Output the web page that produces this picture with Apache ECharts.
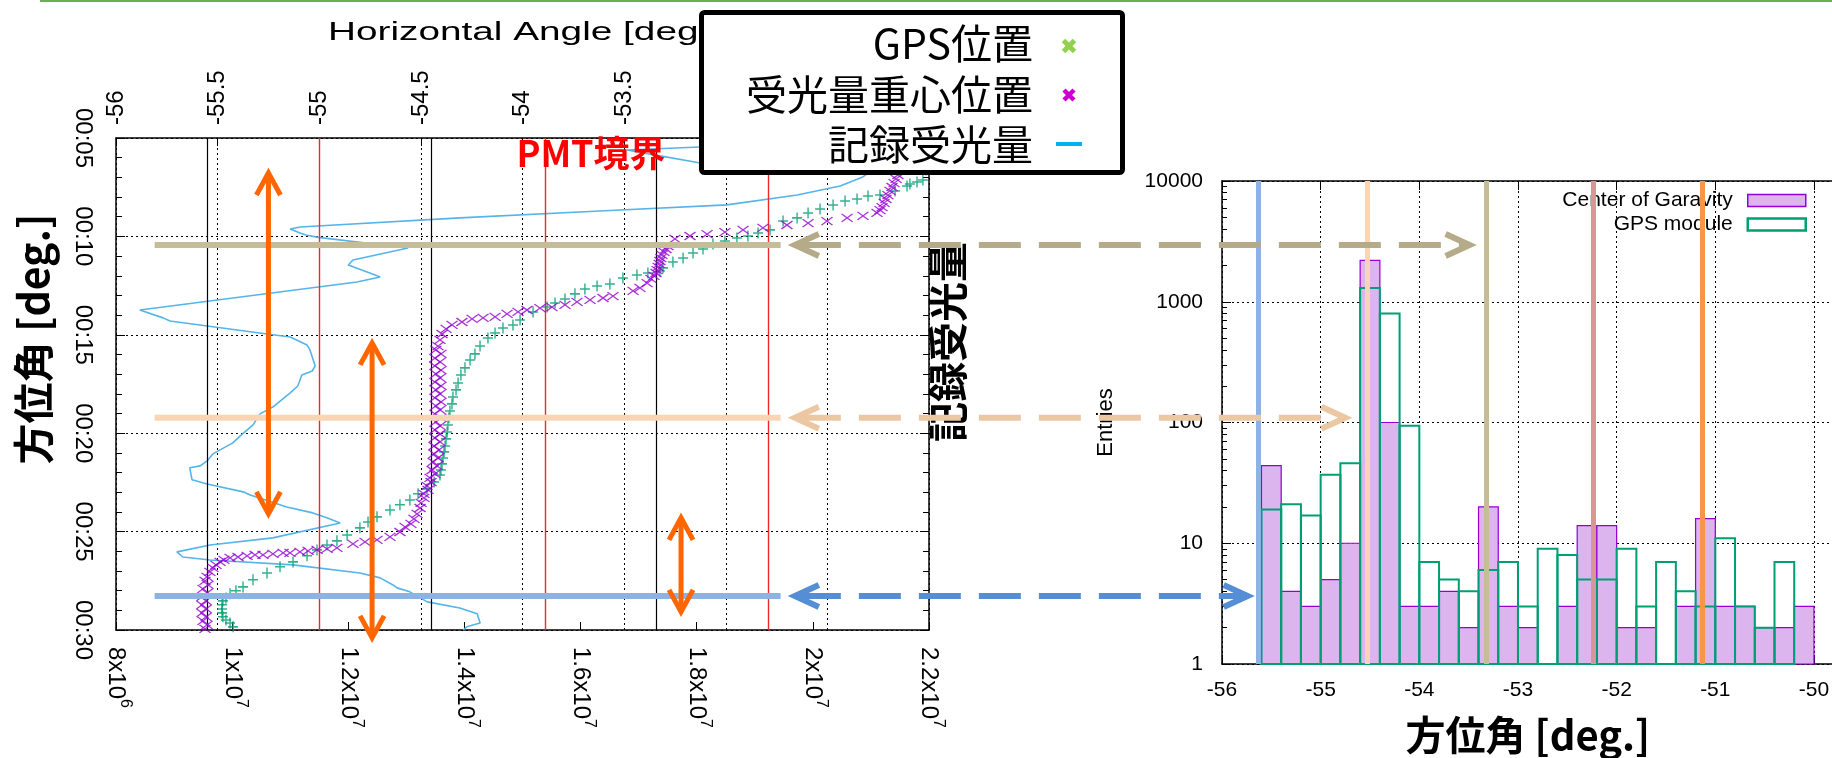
<!DOCTYPE html>
<html>
<head>
<meta charset="utf-8">
<title>方位角と記録受光量</title>
<script src="https://cdn.jsdelivr.net/npm/echarts@6.0.0/dist/echarts.min.js"></script>
<style>
  html, body { margin: 0; padding: 0; background: #ffffff; }
  #chart { width: 1832px; height: 758px; }
</style>
</head>
<body>
<div id="chart"></div>
<script>
// ---------------------------------------------------------------
// Left panel: tracked azimuth and recorded light versus time.
// Time is in minutes after 00:00, angles in degrees,
// recorded light in units of 10^6.
// ---------------------------------------------------------------
const timeTicks = [5, 10, 15, 20, 25, 30];

// GPS position [azimuth, minute]
const gpsPosition = [
  [-52.015, 6.63], [-52.030, 7.13], [-52.059, 7.24], [-52.094, 7.34], [-52.108, 7.44],
  [-52.167, 7.69], [-52.241, 7.90], [-52.300, 7.95], [-52.354, 8.10], [-52.413, 8.20],
  [-52.472, 8.40], [-52.536, 8.61], [-52.595, 8.81], [-52.649, 9.06], [-52.718, 9.22],
  [-52.782, 9.67], [-52.841, 9.83], [-52.891, 9.98], [-52.945, 10.08], [-53.004, 10.23],
  [-53.063, 10.38], [-53.112, 10.64], [-53.161, 10.84], [-53.210, 11.10], [-53.260, 11.30],
  [-53.309, 11.60], [-53.324, 11.76], [-53.383, 11.86], [-53.437, 11.96], [-53.506, 12.11],
  [-53.570, 12.42], [-53.633, 12.52], [-53.693, 12.67], [-53.742, 12.92], [-53.791, 13.18],
  [-53.840, 13.38], [-53.879, 13.59], [-53.948, 13.84], [-54.012, 14.25], [-54.047, 14.50],
  [-54.096, 14.65], [-54.135, 14.91], [-54.170, 15.16], [-54.209, 15.57], [-54.234, 15.97],
  [-54.258, 16.28], [-54.283, 16.68], [-54.303, 17.04], [-54.317, 17.45], [-54.327, 17.80],
  [-54.342, 18.16], [-54.347, 18.51], [-54.357, 18.87], [-54.362, 19.22], [-54.367, 19.58],
  [-54.371, 19.94], [-54.376, 20.29], [-54.381, 20.65], [-54.386, 20.95], [-54.391, 21.26],
  [-54.396, 21.56], [-54.401, 21.87], [-54.406, 22.12], [-54.435, 22.48], [-54.470, 22.83],
  [-54.514, 23.08], [-54.554, 23.39], [-54.603, 23.64], [-54.652, 23.90], [-54.716, 24.25],
  [-54.760, 24.51], [-54.800, 24.81], [-54.863, 25.17], [-54.913, 25.47], [-54.962, 25.68],
  [-55.011, 25.93], [-55.060, 26.23], [-55.129, 26.54], [-55.193, 26.79], [-55.257, 27.10],
  [-55.326, 27.45], [-55.375, 27.81], [-55.410, 28.01], [-55.439, 28.16], [-55.459, 28.37],
  [-55.474, 28.52], [-55.478, 28.72], [-55.478, 28.93], [-55.478, 29.13], [-55.474, 29.33],
  [-55.459, 29.49], [-55.439, 29.64], [-55.424, 29.84]
];

// Light-weighted centre position [azimuth, minute]
const cogPosition = [
  [-52.133, 5.10], [-52.138, 5.36], [-52.143, 5.61], [-52.143, 5.86], [-52.148, 6.12],
  [-52.148, 6.37], [-52.153, 6.63], [-52.153, 6.88], [-52.162, 7.08], [-52.172, 7.29],
  [-52.182, 7.49], [-52.192, 7.69], [-52.202, 7.90], [-52.212, 8.10], [-52.221, 8.30],
  [-52.231, 8.51], [-52.241, 8.66], [-52.256, 8.81],
  [-52.325, 8.96], [-52.403, 9.06], [-52.502, 9.22], [-52.595, 9.32], [-52.699, 9.42],
  [-52.817, 9.57], [-52.915, 9.67], [-53.004, 9.78], [-53.092, 9.88], [-53.176, 9.98],
  [-53.250, 10.13],
  [-53.284, 10.49], [-53.294, 10.64], [-53.304, 10.79], [-53.314, 10.94], [-53.319, 11.10],
  [-53.324, 11.25], [-53.328, 11.40], [-53.333, 11.55], [-53.338, 11.71], [-53.343, 11.86],
  [-53.353, 12.01], [-53.368, 12.16], [-53.387, 12.37], [-53.422, 12.62], [-53.456, 12.77],
  [-53.555, 13.03], [-53.604, 13.13], [-53.668, 13.23], [-53.732, 13.33], [-53.791, 13.48],
  [-53.855, 13.59], [-53.914, 13.64], [-53.978, 13.74], [-54.022, 13.84], [-54.076, 13.94],
  [-54.135, 14.09], [-54.194, 14.14], [-54.248, 14.19], [-54.298, 14.35], [-54.347, 14.50],
  [-54.376, 14.70], [-54.396, 14.96], [-54.406, 15.26], [-54.416, 15.57],
  [-54.426, 15.77], [-54.401, 15.97], [-54.431, 16.18], [-54.406, 16.38], [-54.431, 16.58],
  [-54.401, 16.79], [-54.426, 16.99], [-54.406, 17.19], [-54.431, 17.40], [-54.401, 17.60],
  [-54.426, 17.80], [-54.406, 18.00], [-54.431, 18.21], [-54.401, 18.41], [-54.426, 18.61],
  [-54.406, 18.82], [-54.431, 19.02], [-54.401, 19.22], [-54.426, 19.43], [-54.406, 19.63],
  [-54.431, 19.83], [-54.406, 20.04], [-54.431, 20.24], [-54.406, 20.44], [-54.435, 20.65],
  [-54.411, 20.85], [-54.435, 21.05], [-54.416, 21.26], [-54.440, 21.46], [-54.421, 21.66],
  [-54.445, 21.87], [-54.431, 22.07], [-54.455, 22.27], [-54.450, 22.48], [-54.470, 22.68],
  [-54.465, 22.88], [-54.485, 23.08], [-54.485, 23.29], [-54.499, 23.54], [-54.504, 23.80],
  [-54.519, 24.10], [-54.534, 24.35], [-54.549, 24.61], [-54.578, 24.76],
  [-54.603, 25.02], [-54.652, 25.27], [-54.716, 25.42], [-54.775, 25.52], [-54.834, 25.62],
  [-54.913, 25.83], [-54.962, 25.88], [-55.011, 25.93], [-55.055, 25.98], [-55.095, 26.03],
  [-55.144, 26.08], [-55.178, 26.08], [-55.228, 26.13], [-55.277, 26.18], [-55.316, 26.18],
  [-55.355, 26.23], [-55.400, 26.29], [-55.439, 26.34], [-55.469, 26.44], [-55.488, 26.54],
  [-55.508, 26.69], [-55.523, 26.84], [-55.538, 27.05], [-55.552, 27.30],
  [-55.562, 27.50], [-55.547, 27.71], [-55.572, 27.91], [-55.552, 28.11], [-55.577, 28.32],
  [-55.557, 28.52], [-55.577, 28.72], [-55.557, 28.93], [-55.577, 29.13], [-55.557, 29.33],
  [-55.572, 29.54], [-55.552, 29.74], [-55.562, 29.94]
];

// Recorded light [x10^6, minute]
const recordedLight = [
  [21.59, 5.00], [20.81, 5.20], [18.06, 5.46], [16.80, 5.61], [17.37, 5.91], [18.06, 6.27],
  [19.09, 6.52], [20.47, 6.68], [20.98, 6.73], [20.86, 6.98], [20.47, 7.44], [19.73, 7.90],
  [18.52, 8.40], [16.33, 8.71], [13.92, 9.06], [11.17, 9.52], [11.00, 9.62], [11.17, 9.83],
  [11.27, 9.93], [11.24, 10.03], [11.48, 10.05], [13.03, 10.59], [12.08, 11.20], [12.00, 11.45],
  [12.37, 11.86], [12.55, 12.06], [12.15, 12.32], [8.41, 13.74], [8.81, 14.14], [8.93, 14.30],
  [10.60, 14.96], [11.00, 15.11], [11.29, 15.52], [11.34, 15.77], [11.43, 16.58], [11.38, 16.84],
  [11.20, 17.04], [11.13, 17.60], [11.00, 17.95], [10.70, 18.67], [10.48, 19.02], [10.36, 19.58],
  [10.14, 20.14], [10.01, 20.49], [9.67, 21.05], [9.57, 21.41], [9.45, 21.66], [9.27, 21.76],
  [9.31, 22.37], [9.57, 22.58], [10.19, 22.98], [10.31, 23.14], [10.94, 23.75], [11.39, 24.05],
  [11.63, 24.30], [11.86, 24.56], [10.70, 25.32], [9.62, 25.68], [9.05, 26.03], [9.15, 26.29],
  [9.62, 26.44], [11.05, 26.69], [12.20, 27.10], [12.55, 27.35], [12.77, 27.71], [12.84, 27.86],
  [13.06, 28.06], [13.36, 28.57], [13.92, 28.88], [14.22, 29.18], [14.27, 29.64], [14.04, 29.84],
  [13.98, 30.00]
];

// PMT boundary azimuths
const pmtEdges = [-55.55, -54.45, -53.34];
const pmtBorders = [-55.0, -53.89, -52.79];

// Guide lines: time of each band, its azimuth span, and the azimuth
// it points at in the histogram
const guideTimes = [10.44, 19.22, 28.27];
const guideSpan = [-55.81, -52.73];
const guideArrowTip = -52.66;
const guideHistAngles = [-53.49, -54.75, -55.74];

// Orange range arrows: azimuth, start minute, end minute
const rangeAngles = [-55.25, -54.74, -53.22];
const rangeFrom = [6.78, 15.41, 24.30];
const rangeTo = [24.10, 30.40, 29.08];

// ---------------------------------------------------------------
// Right panel: azimuth histogram (0.2 deg bins)
// ---------------------------------------------------------------
const binWidth = 0.2;
const histBinStart = [
  -55.6, -55.4, -55.2, -55.0, -54.8, -54.6, -54.4, -54.2, -54.0, -53.8,
  -53.6, -53.4, -53.2, -53.0, -52.8, -52.6, -52.4, -52.2, -52.0, -51.8,
  -51.6, -51.4, -51.2, -51.0, -50.8, -50.6, -50.4, -50.2
];
const histCog = [44, 4, 3, 5, 10, 2200, 100, 3, 3, 4, 2, 20, 3, 2, 0, 3, 14, 14, 2, 2, 0, 3, 16, 3, 3, 2, 2, 3];
const histGps = [19, 21, 17, 37, 46, 1300, 800, 94, 7, 5, 4, 6, 7, 3, 9, 8, 5, 5, 9, 3, 7, 4, 3, 11, 3, 2, 7, 0];
const histMarkAngles = [-55.625, -54.53, -53.324, -52.24, -51.135];
const logMinorTicks = [2, 3, 4, 5, 6, 7, 8, 9, 20, 30, 40, 50, 60, 70, 80, 90,
  200, 300, 400, 500, 600, 700, 800, 900, 2000, 3000, 4000, 5000, 6000, 7000, 8000, 9000];

// ---------------------------------------------------------------
// Styling
// ---------------------------------------------------------------
const FONT = "'Liberation Sans', Arial, Helvetica, sans-serif";
const CJK = "'Noto Sans CJK JP', 'Noto Sans CJK SC', sans-serif";
const BLACK = '#000000';
const DOT = { type: [2, 3], color: BLACK, width: 1 };
const AXIS_LINE = { show: true, onZero: false, lineStyle: { color: BLACK, width: 1.5 } };
const tickIn = len => ({ show: true, inside: true, length: len, lineStyle: { color: BLACK, width: 1 } });
const minorIn = { show: true, splitNumber: 5, length: 6, lineStyle: { color: BLACK, width: 1 } };
const guideSolid = ['#C4BD97', '#FBD4B4', '#8DB3E2'];
const guideDash = ['#B5AB88', '#ECC7A4', '#558ED5'];
const histMarkColors = ['#8DB3E2', '#FBD4B4', '#C4BD97', '#D99694', '#F79646'];
const ORANGE = '#FF6600';
const pad2 = v => (v < 10 ? '0' : '') + v;

function histRenderer(fill, stroke, lw) {
  return function (params, api) {
    const start = api.value(0);
    const count = api.value(1);
    if (!(count > 0)) return null;
    const top = api.coord([start, count]);
    const bottom = api.coord([start + binWidth, 1]);
    return {
      type: 'rect',
      shape: { x: top[0], y: top[1], width: bottom[0] - top[0], height: bottom[1] - top[1] },
      style: { fill: fill, stroke: stroke, lineWidth: lw }
    };
  };
}

const option = {
  backgroundColor: '#ffffff',
  animation: false,
  grid: [
    { left: 116, top: 138, width: 813, height: 492, outerBoundsMode: 'none' },
    { left: 1222, top: 181, width: 611.7, height: 483, outerBoundsMode: 'none' }
  ],
  legend: {
    orient: 'vertical', right: 25, top: 190, padding: 0, align: 'right',
    itemWidth: 58, itemHeight: 12, itemGap: 3, selectedMode: false,
    textStyle: { fontFamily: FONT, fontSize: 21, color: BLACK, padding: [0, 10, 0, 0] },
    data: [
      { name: 'Center of Garavity', icon: 'rect',
        itemStyle: { color: '#DCB4EE', borderColor: '#9400D3', borderWidth: 1.5 } },
      { name: 'GPS module', icon: 'rect',
        itemStyle: { color: '#FFFFFF', borderColor: '#009E73', borderWidth: 2.5 } }
    ]
  },
  xAxis: [
    { // horizontal angle, top of the left panel
      gridIndex: 0, type: 'value', position: 'top', min: -56, max: -52, interval: 0.5,
      axisLine: AXIS_LINE, axisTick: tickIn(8),
      axisLabel: { rotate: -90, margin: 13, fontSize: 24, fontFamily: FONT, color: BLACK },
      splitLine: { show: true, lineStyle: DOT }
    },
    { // recorded light, bottom of the left panel
      gridIndex: 0, type: 'value', position: 'bottom', min: 8, max: 22, interval: 2,
      axisLine: AXIS_LINE, axisTick: tickIn(8),
      axisLabel: {
        rotate: -90, margin: 17, color: BLACK, fontFamily: FONT,
        formatter: v => v < 10 ? '{b|' + v + 'x10}{s|6}' : '{b|' + (+(v / 10).toFixed(1)) + 'x10}{s|7}',
        rich: {
          b: { fontSize: 24, fontFamily: FONT, color: BLACK, lineHeight: 34 },
          s: { fontSize: 16, fontFamily: FONT, color: BLACK, lineHeight: 14, verticalAlign: 'top' }
        }
      },
      splitLine: { show: false }
    },
    { // histogram azimuth
      gridIndex: 1, type: 'value', position: 'bottom', min: -56, max: -49.8, interval: 1,
      axisLine: AXIS_LINE, axisTick: tickIn(9),
      axisLabel: { margin: 16, fontSize: 21, fontFamily: FONT, color: BLACK,
        formatter: v => Number.isInteger(v) ? String(v) : '' },
      splitLine: { show: true, lineStyle: DOT },
      name: '方位角 [deg.]', nameLocation: 'middle', nameGap: 51,
      nameTextStyle: { fontSize: 40, fontWeight: 'bold', fontFamily: CJK, color: BLACK }
    },
    { // histogram frame top
      gridIndex: 1, type: 'value', position: 'top', min: -56, max: -49.8, interval: 1,
      axisLine: AXIS_LINE, axisTick: tickIn(9), axisLabel: { show: false }, splitLine: { show: false }
    }
  ],
  yAxis: [
    { // time, left side
      gridIndex: 0, type: 'value', position: 'left', inverse: true,
      min: timeTicks[0], max: timeTicks[timeTicks.length - 1], interval: 5,
      axisLine: AXIS_LINE, axisTick: tickIn(9), minorTick: minorIn,
      axisLabel: { rotate: -90, margin: 21, fontSize: 24, fontFamily: FONT, color: BLACK,
        formatter: v => '00:' + pad2(v) },
      splitLine: { show: true, lineStyle: DOT }
    },
    { // time, mirrored on the right frame
      gridIndex: 0, type: 'value', position: 'right', inverse: true,
      min: timeTicks[0], max: timeTicks[timeTicks.length - 1], interval: 5,
      axisLine: AXIS_LINE, axisTick: tickIn(9), minorTick: minorIn,
      axisLabel: { show: false }, splitLine: { show: false }
    },
    { // histogram entries
      gridIndex: 1, type: 'log', logBase: 10, min: 1, max: 10000, position: 'left',
      axisLine: AXIS_LINE, axisTick: tickIn(9),
      axisLabel: { margin: 19, fontSize: 21, fontFamily: FONT, color: BLACK,
        formatter: v => String(Math.round(v)) },
      splitLine: { show: true, lineStyle: DOT },
      name: 'Entries', nameLocation: 'middle', nameGap: 105, nameRotate: 90,
      nameTextStyle: { fontSize: 22, fontFamily: FONT, color: BLACK }
    },
    { // histogram minor ticks
      gridIndex: 1, type: 'log', logBase: 10, min: 1, max: 10000, position: 'left',
      axisLine: { show: false }, axisLabel: { show: false }, splitLine: { show: false },
      axisTick: { show: true, inside: true, length: 5, customValues: logMinorTicks,
        lineStyle: { color: BLACK, width: 1 } }
    }
  ],
  series: [
    {
      name: '記録受光量', type: 'line', xAxisIndex: 1, yAxisIndex: 0,
      data: recordedLight, showSymbol: false, symbol: 'none', z: 3,
      lineStyle: { color: '#56B4E9', width: 1.6 }
    },
    {
      name: 'GPS位置', type: 'scatter', xAxisIndex: 0, yAxisIndex: 0, z: 4,
      data: gpsPosition,
      symbol: 'path://M5,0L5,10M0,5L10,5', symbolSize: [10, 11],
      itemStyle: { color: 'none', borderColor: '#009E73', borderWidth: 1.5 },
      markLine: {
        silent: true, symbol: ['none', 'none'], label: { show: false }, animation: false,
        data: pmtEdges.map(a => ({ xAxis: a, lineStyle: { color: BLACK, width: 1.2, type: 'solid' } }))
          .concat(pmtBorders.map(a => ({ xAxis: a, lineStyle: { color: '#F02828', width: 1.4, type: 'solid' } })))
      }
    },
    {
      name: '受光量重心位置', type: 'scatter', xAxisIndex: 0, yAxisIndex: 0, z: 5,
      data: cogPosition,
      symbol: 'path://M0,0L10,10M10,0L0,10', symbolSize: [11, 8],
      itemStyle: { color: 'none', borderColor: '#9400D3', borderWidth: 1.3 }
    },
    {
      name: 'Center of Garavity', type: 'custom', xAxisIndex: 2, yAxisIndex: 2, z: 2,
      data: histBinStart.map((b, i) => [b, histCog[i]]),
      itemStyle: { color: '#DCB4EE' },
      renderItem: histRenderer('#DCB4EE', '#9400D3', 1.2)
    },
    {
      name: 'GPS module', type: 'custom', xAxisIndex: 2, yAxisIndex: 2, z: 3,
      data: histBinStart.map((b, i) => [b, histGps[i]]),
      itemStyle: { color: '#009E73' },
      renderItem: histRenderer('none', '#009E73', 2),
      markLine: {
        silent: true, symbol: ['none', 'none'], label: { show: false }, animation: false, z: 6,
        data: histMarkAngles.map((a, i) => ({ xAxis: a, lineStyle: { color: histMarkColors[i], width: 5, type: 'solid' } }))
      }
    }
  ]
};

const chart = echarts.init(document.getElementById('chart'), null, { renderer: 'canvas' });
chart.setOption(option);

// Annotation overlay, positioned through the axes of both panels
function buildOverlay() {
  const P = (a, t) => chart.convertToPixel({ xAxisIndex: 0, yAxisIndex: 0 }, [a, t]);
  const HX = a => chart.convertToPixel({ xAxisIndex: 2, yAxisIndex: 2 }, [a, 10])[0];
  const els = [];
  const line = (x1, y1, x2, y2, stroke, lw, extra, z) => els.push({
    type: 'line', silent: true, z: z || 60,
    shape: { x1: x1, y1: y1, x2: x2, y2: y2 },
    style: Object.assign({ stroke: stroke, lineWidth: lw, lineCap: 'butt' }, extra || {})
  });
  const chevron = (x, y, dx, dy, L, H, stroke, lw) => {
    const px = -dy, py = dx;
    els.push({
      type: 'polyline', silent: true, z: 61,
      shape: { points: [[x - dx * L + px * H, y - dy * L + py * H], [x, y], [x - dx * L - px * H, y - dy * L - py * H]] },
      style: { stroke: stroke, lineWidth: lw, fill: 'none', lineJoin: 'miter', lineCap: 'butt' }
    });
  };
  const text = (x, y, str, style, extra) => els.push(Object.assign({
    type: 'text', x: x, y: y, silent: true, z: 55,
    style: Object.assign({ text: str, fill: BLACK, align: 'center', verticalAlign: 'middle',
      textAlign: 'center', textVerticalAlign: 'middle' }, style)
  }, extra || {}));

  // thin rule along the top edge
  line(40, 1, 1832, 1, '#6AB04C', 2, null, 10);

  // titles and labels
  text(328, 33, 'Horizontal Angle [deg.]',
    { fontSize: 25, fontFamily: FONT, align: 'left', textAlign: 'left' }, { scaleX: 1.55, z: 40 });
  text(33, 339, '方位角 [deg.]', { fontSize: 41, fontWeight: 'bold', fontFamily: CJK }, { rotation: Math.PI / 2 });
  text(948, 342, '記録受光量', { fontSize: 40, fontWeight: 'bold', fontFamily: CJK }, { rotation: Math.PI / 2 });
  text(591, 153, 'PMT境界', { fontSize: 36, fontWeight: 'bold', fontFamily: CJK, fill: '#FF0000' }, { z: 58 });

  // guide bands and dashed arrows into the histogram
  guideTimes.forEach((t, i) => {
    const a = P(guideSpan[0], t), b = P(guideSpan[1], t);
    line(a[0], a[1], b[0], b[1], guideSolid[i], 6);
    const tipL = P(guideArrowTip, t)[0];
    const tipR = HX(guideHistAngles[i]);
    line(tipL + 4, a[1], tipR - 4, a[1], guideDash[i], 6, { lineDash: [42, 18] });
    chevron(tipL, a[1], -1, 0, 24, 11, guideDash[i], 6);
    chevron(tipR, a[1], 1, 0, 24, 11, guideDash[i], 6);
  });

  // orange double-headed range arrows
  rangeAngles.forEach((ang, i) => {
    const a = P(ang, rangeFrom[i]), b = P(ang, rangeTo[i]);
    line(a[0], a[1] + 2, b[0], b[1] - 2, ORANGE, 5);
    chevron(a[0], a[1], 0, -1, 22, 12, ORANGE, 5);
    chevron(b[0], b[1], 0, 1, 22, 12, ORANGE, 5);
  });

  // key for the left panel
  els.push({
    type: 'rect', silent: true, z: 100,
    shape: { x: 701.5, y: 12.5, width: 421, height: 160, r: 3 },
    style: { fill: '#FFFFFF', stroke: BLACK, lineWidth: 5 }
  });
  const keyText = (y, str) => text(1033, y, str,
    { fontSize: 41, fontFamily: CJK, align: 'right', textAlign: 'right' }, { z: 101 });
  keyText(43, 'GPS位置');
  keyText(94, '受光量重心位置');
  keyText(144, '記録受光量');
  const cross = (cx, cy, h, color, lw) => {
    line(cx - h, cy - h, cx + h, cy + h, color, lw, null, 101);
    line(cx - h, cy + h, cx + h, cy - h, color, lw, null, 101);
  };
  cross(1069, 46, 5.5, '#92D050', 5);
  cross(1069, 95, 5, '#CC00CC', 4.5);
  line(1056, 144, 1082, 144, '#00B0F0', 4, null, 101);

  return els;
}

chart.setOption({ graphic: buildOverlay() });
</script>
</body>
</html>
